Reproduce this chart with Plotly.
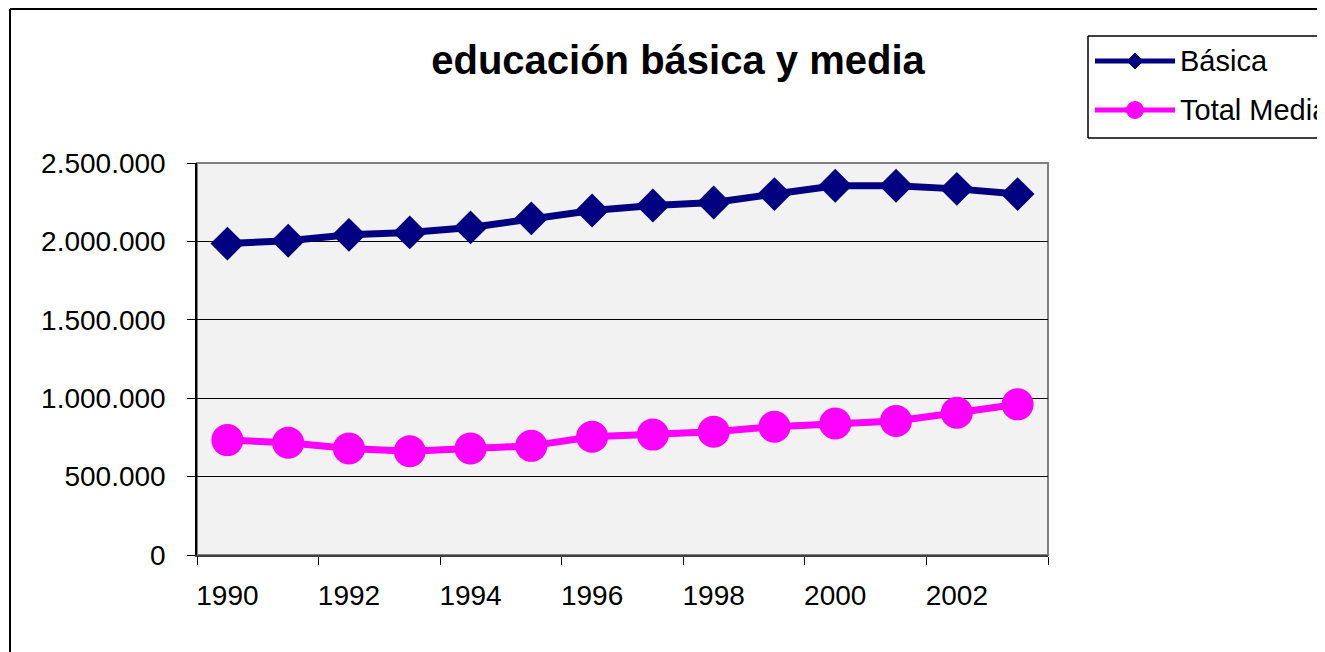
import plotly.graph_objects as go

years = [str(y) for y in range(1990, 2004)]
basica = [1986000, 2004000, 2042000, 2057000, 2089000, 2147000, 2197000,
          2229000, 2248000, 2302000, 2355000, 2355000, 2335000, 2302000]
media = [733000, 716000, 679000, 662000, 679000, 696000, 754000,
         768000, 786000, 818000, 839000, 855000, 907000, 961000]
series_names = ["Básica", "Total Media"]
series_colors = ["#000080", "#FF00FF"]
title_text = "educación básica y media"

# the page body has an 8px margin; work in screen pixels and subtract it
OFF = 8
W_FIG, H_FIG = 1325 - OFF, 652 - OFF
L, R, T, B = 197, 1048, 163, 555  # screen pixels of plot area
PW, PH = R - L, B - T


def px(xp):
    return (xp - L) / PW


def py(yp):
    return (B - yp) / PH


def hline(x0, x1, y, color="black", width=2, layer="above"):
    return dict(type="line", xref="paper", yref="paper", x0=px(x0), x1=px(x1),
                y0=py(y), y1=py(y), line=dict(color=color, width=width), layer=layer)


def vline(x, y0, y1, color="black", width=2, layer="above"):
    return dict(type="line", xref="paper", yref="paper", x0=px(x), x1=px(x),
                y0=py(y0), y1=py(y1), line=dict(color=color, width=width), layer=layer)


FONT = "Liberation Sans, Arial, sans-serif"

fig = go.Figure()
fig.add_trace(go.Scatter(
    x=years, y=basica, name=series_names[0], mode="lines+markers",
    line=dict(color=series_colors[0], width=7),
    marker=dict(symbol="diamond", size=26, color=series_colors[0]),
    showlegend=False, cliponaxis=False))
fig.add_trace(go.Scatter(
    x=years, y=media, name=series_names[1], mode="lines+markers",
    line=dict(color=series_colors[1], width=7),
    marker=dict(symbol="circle", size=32, color=series_colors[1]),
    showlegend=False, cliponaxis=False))

shapes = []
# outer chart border (left and top edges visible)
shapes.append(hline(10, 1330, 9, layer="below"))
shapes.append(vline(10, 9, 660, layer="below"))
# plot area border (gray)
shapes.append(dict(type="rect", xref="paper", yref="paper",
                   x0=0, x1=1, y0=0, y1=1,
                   line=dict(color="#808080", width=2), layer="below"))
# legend box
shapes.append(dict(type="rect", xref="paper", yref="paper",
                   x0=px(1088), x1=px(1330), y0=py(138), y1=py(36),
                   line=dict(width=0), fillcolor="white"))
shapes.append(hline(1088, 1330, 36, width=1.5))
shapes.append(hline(1088, 1330, 138, width=1.5))
shapes.append(vline(1088, 36, 138, width=1.5))

annotations = []
leg_y = [61, 110]
for i, (nm, col) in enumerate(zip(series_names, series_colors)):
    yy = leg_y[i]
    shapes.append(hline(1095, 1175, yy, color=col, width=5))
    if i == 0:
        d = 8
        path = (f"M {px(1135 - d)},{py(yy)} L {px(1135)},{py(yy - d)} "
                f"L {px(1135 + d)},{py(yy)} L {px(1135)},{py(yy + d)} Z")
        shapes.append(dict(type="path", xref="paper", yref="paper", path=path,
                           fillcolor=col, line=dict(color=col, width=1)))
    else:
        r = 8.5
        shapes.append(dict(type="circle", xref="paper", yref="paper",
                           x0=px(1135 - r), x1=px(1135 + r),
                           y0=py(yy + r), y1=py(yy - r),
                           fillcolor=col, line=dict(color=col, width=1)))
    annotations.append(dict(text=nm, xref="paper", yref="paper",
                            x=px(1178), y=py(yy), xanchor="left", yanchor="middle",
                            showarrow=False, font=dict(family=FONT, size=29, color="black")))

fig.update_layout(
    width=W_FIG, height=H_FIG,
    margin=dict(l=L - OFF, r=W_FIG - (R - OFF), t=T - OFF, b=H_FIG - (B - OFF),
                pad=0, autoexpand=False),
    paper_bgcolor="white", plot_bgcolor="#F2F2F2",
    separators=",.",
    title=dict(text=f"<b>{title_text}</b>", x=(678 - L) / PW, xref="paper",
               xanchor="center", y=1 - (60 - OFF) / H_FIG, yref="container",
               yanchor="middle",
               font=dict(family=FONT, size=40, color="black")),
    xaxis=dict(type="category", range=[-0.5, 13.5], tickson="boundaries", dtick=2,
               ticks="outside", ticklen=8, tickcolor="black", tickwidth=1,
               tickangle=0,
               showline=True, linecolor="#404040", linewidth=2,
               showgrid=False, zeroline=False,
               tickfont=dict(family=FONT, size=28, color="black"),
               ticklabelstandoff=14),
    yaxis=dict(range=[0, 2500000], dtick=500000, tickformat=",d",
               ticks="outside", ticklen=8, tickcolor="black", tickwidth=1,
               showline=True, linecolor="black", linewidth=1.5,
               showgrid=True, gridcolor="black", gridwidth=1, zeroline=False,
               tickfont=dict(family=FONT, size=28, color="black"),
               ticklabelstandoff=16),
    shapes=shapes, annotations=annotations,
)

fig.write_html("out.html")
